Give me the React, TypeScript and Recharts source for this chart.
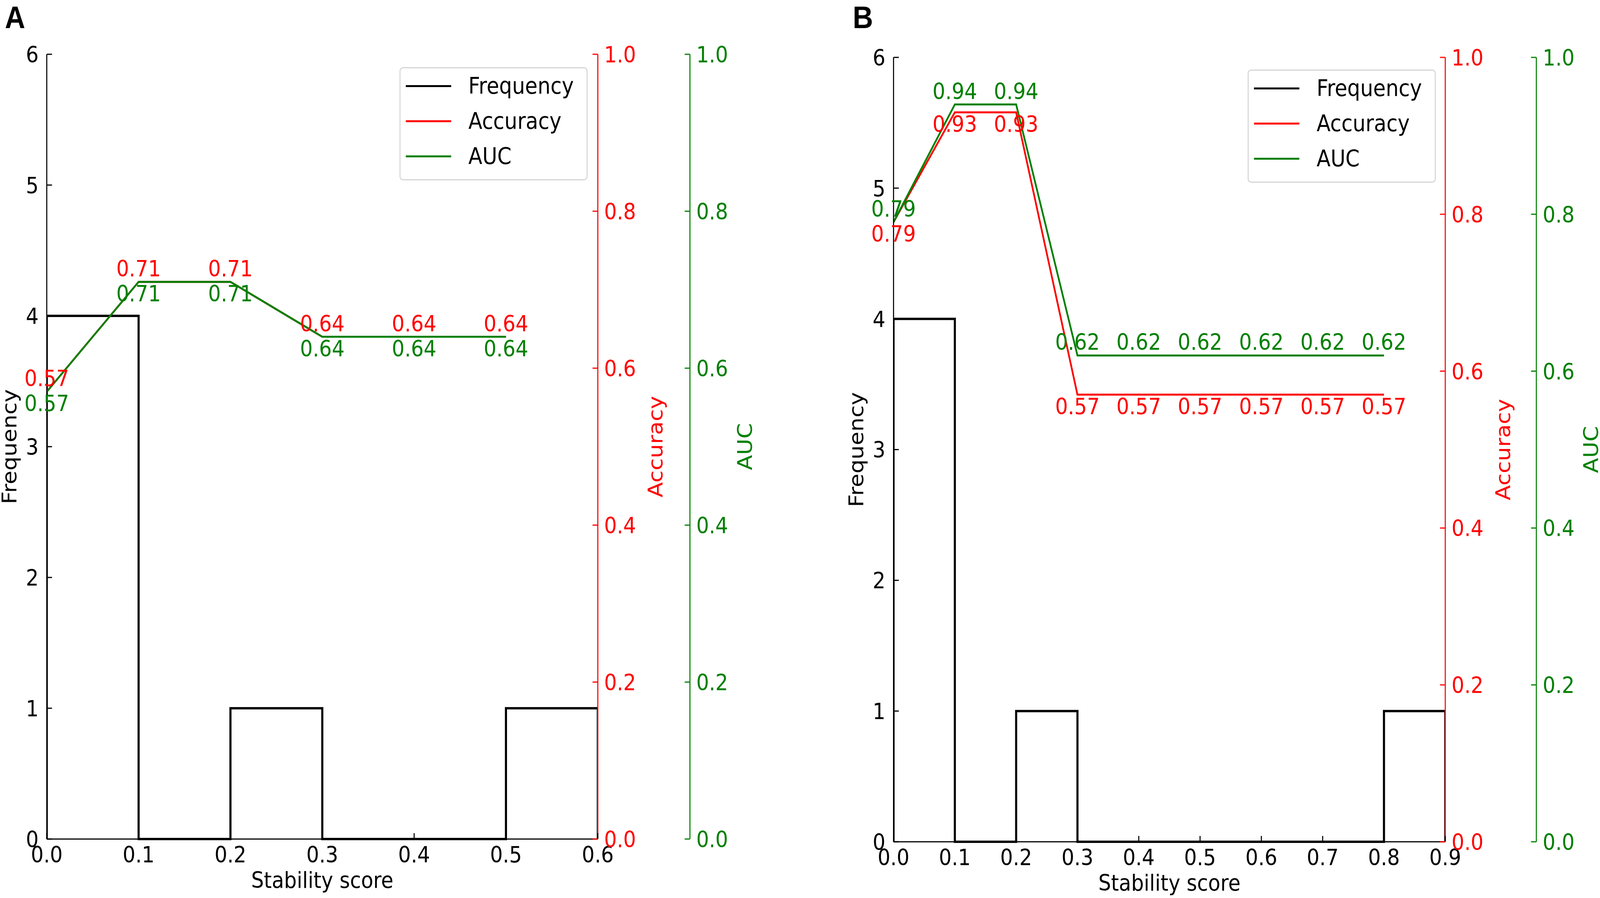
import React from "react";
import { ComposedChart, Line, XAxis, YAxis, Legend } from "recharts";

// panel A
const binEdgesA = [0, 0.1, 0.2, 0.3, 0.4, 0.5, 0.6];
const freqA = [4, 0, 1, 0, 0, 1];
const scoresA = [0, 0.1, 0.2, 0.3, 0.4, 0.5];
const accuracyA = [0.57, 0.71, 0.71, 0.64, 0.64, 0.64];
const aucA = [0.57, 0.71, 0.71, 0.64, 0.64, 0.64];

// panel B
const binEdgesB = [0, 0.1, 0.2, 0.3, 0.4, 0.5, 0.6, 0.7, 0.8, 0.9];
const freqB = [4, 0, 1, 0, 0, 0, 0, 0, 1];
const scoresB = [0, 0.1, 0.2, 0.3, 0.4, 0.5, 0.6, 0.7, 0.8];
const accuracyB = [0.79, 0.93, 0.93, 0.57, 0.57, 0.57, 0.57, 0.57, 0.57];
const aucB = [0.79, 0.94, 0.94, 0.62, 0.62, 0.62, 0.62, 0.62, 0.62];

const freqTicks = [0, 1, 2, 3, 4, 5, 6];
const metricTicks = [0, 0.2, 0.4, 0.6, 0.8, 1.0];
const legendOrder = ["Frequency", "Accuracy", "AUC"];

const W = 4550;
const H = 2300;
const FONT = "DejaVu Sans";
const FS = 57;
const TICK = 15;
const RED = "#ff0000";
const GREEN = "#008000";

// outline of a step histogram
function stepData(edges: number[], counts: number[]) {
  const pts = [{ x: edges[0], freq: 0 }];
  counts.forEach((c, i) => {
    pts.push({ x: edges[i], freq: c });
    pts.push({ x: edges[i + 1], freq: c });
  });
  pts.push({ x: edges[edges.length - 1], freq: 0 });
  return pts;
}

function metricData(xs: number[], vals: number[]) {
  return xs.map((x, i) => ({ x, value: vals[i] }));
}

function BottomTick({ x, y, payload }: any) {
  return (
    <g>
      <line x1={x} x2={x} y1={y} y2={y - TICK} stroke="#000" strokeWidth={3} />
      <text x={x} y={y + 60} textAnchor="middle" fontFamily={FONT} fontSize={FS} fill="#000">
        {Number(payload.value).toFixed(1)}
      </text>
    </g>
  );
}

function LeftTick({ x, y, payload }: any) {
  return (
    <g>
      <line x1={x} x2={x + TICK} y1={y} y2={y} stroke="#000" strokeWidth={3} />
      <text x={x - 23} y={y + 21} textAnchor="end" fontFamily={FONT} fontSize={FS} fill="#000">
        {payload.value}
      </text>
    </g>
  );
}

function rightTick(color: string) {
  return ({ x, y, payload }: any) => (
    <g>
      <line x1={x} x2={x - TICK} y1={y} y2={y} stroke={color} strokeWidth={3} />
      <text x={x + 18} y={y + 21} textAnchor="start" fontFamily={FONT} fontSize={FS} fill={color}>
        {Number(payload.value).toFixed(1)}
      </text>
    </g>
  );
}

function rotatedLabel(text: string, color: string, dx: number, fromRight: boolean) {
  return (props: any) => {
    const vb = props.viewBox || {};
    const bx = (fromRight ? vb.x + vb.width : vb.x) + dx;
    const cy = vb.y + vb.height / 2;
    return (
      <text
        transform={`translate(${bx},${cy}) rotate(-90)`}
        textAnchor="middle"
        fontFamily={FONT}
        fontSize={FS}
        fill={color}
      >
        {text}
      </text>
    );
  };
}

function xLabel(props: any) {
  const vb = props.viewBox || {};
  return (
    <text x={vb.x + vb.width / 2} y={vb.y + 125} textAnchor="middle" fontFamily={FONT} fontSize={FS} fill="#000">
      Stability score
    </text>
  );
}

function valueLabel(color: string, above: boolean) {
  return (props: any) => {
    const x = props.x ?? props.viewBox?.x;
    const y = props.y ?? props.viewBox?.y;
    return (
      <text
        x={x}
        y={above ? y - 14 : y + 50}
        textAnchor="middle"
        fontFamily={FONT}
        fontSize={FS}
        fill={color}
      >
        {Number(props.value).toFixed(2)}
      </text>
    );
  };
}

function LegendBox({ payload }: any) {
  const items = [...(payload || [])].sort(
    (a: any, b: any) => legendOrder.indexOf(a.value) - legendOrder.indexOf(b.value)
  );
  return (
    <div
      style={{
        position: "relative",
        width: 535,
        height: 290,
        boxSizing: "border-box",
        border: "3px solid #d6d6d6",
        borderRadius: 10,
        background: "#fff",
        fontFamily: FONT,
        fontSize: 58,
        color: "#000",
      }}
    >
      {items.map((p: any, i: number) => (
        <div key={p.value} style={{ position: "absolute", left: 0, top: 90 * i, width: "100%", height: 90 }}>
          <div style={{ position: "absolute", left: 15, top: 43, width: 129, height: 5, background: p.color }} />
          <div style={{ position: "absolute", left: 193, top: 0, height: 90, lineHeight: "90px" }}>{p.value}</div>
        </div>
      ))}
    </div>
  );
}

interface PanelProps {
  edges: number[];
  counts: number[];
  scores: number[];
  accuracy: number[];
  auc: number[];
  top: number;
  xAxisHeight: number;
  leftWidth: number;
  accWidth: number;
  aucWidth: number;
  accAbove: boolean;
  legendLeft: number;
  legendTop: number;
}

function Panel(p: PanelProps) {
  const xMax = p.edges[p.edges.length - 1];
  return (
    <ComposedChart width={2275} height={2300} margin={{ top: p.top, right: 0, bottom: 0, left: 0 }}>
      <XAxis
        dataKey="x"
        type="number"
        domain={[0, xMax]}
        ticks={p.edges}
        interval={0}
        allowDataOverflow
        height={p.xAxisHeight}
        tickSize={0}
        tickMargin={0}
        tickLine={false}
        axisLine={{ stroke: "#000", strokeWidth: 3 }}
        tick={BottomTick}
        label={xLabel}
      />
      <YAxis
        yAxisId="freq"
        orientation="left"
        width={p.leftWidth}
        domain={[0, 6]}
        ticks={freqTicks}
        interval={0}
        tickSize={0}
        tickMargin={0}
        tickLine={false}
        axisLine={{ stroke: "#000", strokeWidth: 3 }}
        tick={LeftTick}
        label={rotatedLabel("Frequency", "#000", -86, true)}
      />
      <YAxis
        yAxisId="acc"
        orientation="right"
        width={p.accWidth}
        domain={[0, 1]}
        ticks={metricTicks}
        interval={0}
        tickSize={0}
        tickMargin={0}
        tickLine={false}
        axisLine={{ stroke: RED, strokeWidth: 3 }}
        tick={rightTick(RED)}
        label={rotatedLabel("Accuracy", RED, 184, false)}
      />
      <YAxis
        yAxisId="auc"
        orientation="right"
        width={p.aucWidth}
        domain={[0, 1]}
        ticks={metricTicks}
        interval={0}
        tickSize={0}
        tickMargin={0}
        tickLine={false}
        axisLine={{ stroke: GREEN, strokeWidth: 3 }}
        tick={rightTick(GREEN)}
        label={rotatedLabel("AUC", GREEN, 176, false)}
      />
      <Legend
        layout="vertical"
        align="center"
        verticalAlign="middle"
        content={LegendBox}
        wrapperStyle={{ left: p.legendLeft, top: p.legendTop, width: 535, height: 290 }}
      />
      <Line
        yAxisId="freq"
        data={stepData(p.edges, p.counts)}
        dataKey="freq"
        name="Frequency"
        type="linear"
        stroke="#000"
        strokeWidth={6}
        dot={false}
        isAnimationActive={false}
      />
      <Line
        yAxisId="acc"
        data={metricData(p.scores, p.accuracy)}
        dataKey="value"
        name="Accuracy"
        type="linear"
        stroke={RED}
        strokeWidth={5}
        dot={false}
        label={valueLabel(RED, p.accAbove)}
        isAnimationActive={false}
      />
      <Line
        yAxisId="auc"
        data={metricData(p.scores, p.auc)}
        dataKey="value"
        name="AUC"
        type="linear"
        stroke={GREEN}
        strokeWidth={5}
        dot={false}
        label={valueLabel(GREEN, !p.accAbove)}
        isAnimationActive={false}
      />
    </ComposedChart>
  );
}

export default function App() {
  // the page may be narrower than 4550px, so fit the fixed drawing into the real viewport
  const vw = typeof window !== "undefined" && window.innerWidth > 0 ? window.innerWidth : W;
  const vh = typeof window !== "undefined" && window.innerHeight > 0 ? window.innerHeight : H;
  const sx = Math.min(1, vw / W);
  const sy = Math.min(1, vh / H);
  return (
    <div
      style={{
        position: "absolute",
        left: 0,
        top: 0,
        width: W,
        height: H,
        background: "#fff",
        transform: `scale(${sx}, ${sy})`,
        transformOrigin: "0 0",
        overflow: "hidden",
      }}
    >
      <div style={{ position: "absolute", left: 0, top: 0 }}>
        <Panel
          edges={binEdgesA}
          counts={freqA}
          scores={scoresA}
          accuracy={accuracyA}
          auc={aucA}
          top={139}
          xAxisHeight={151}
          leftWidth={133}
          accWidth={262}
          aucWidth={313}
          accAbove={true}
          legendLeft={1136}
          legendTop={172}
        />
      </div>
      <div style={{ position: "absolute", left: 2275, top: 0 }}>
        <Panel
          edges={binEdgesB}
          counts={freqB}
          scores={scoresB}
          accuracy={accuracyB}
          auc={aucB}
          top={147}
          xAxisHeight={144}
          leftWidth={266}
          accWidth={259}
          aucWidth={181}
          accAbove={false}
          legendLeft={1273}
          legendTop={178}
        />
      </div>
      <svg width={W} height={120} style={{ position: "absolute", left: 0, top: 0 }}>
        <text x={14} y={72} fontFamily="Liberation Sans" fontWeight="bold" fontSize={80} fill="#000">
          A
        </text>
        <text x={2425} y={72} fontFamily="Liberation Sans" fontWeight="bold" fontSize={80} fill="#000">
          B
        </text>
      </svg>
    </div>
  );
}
